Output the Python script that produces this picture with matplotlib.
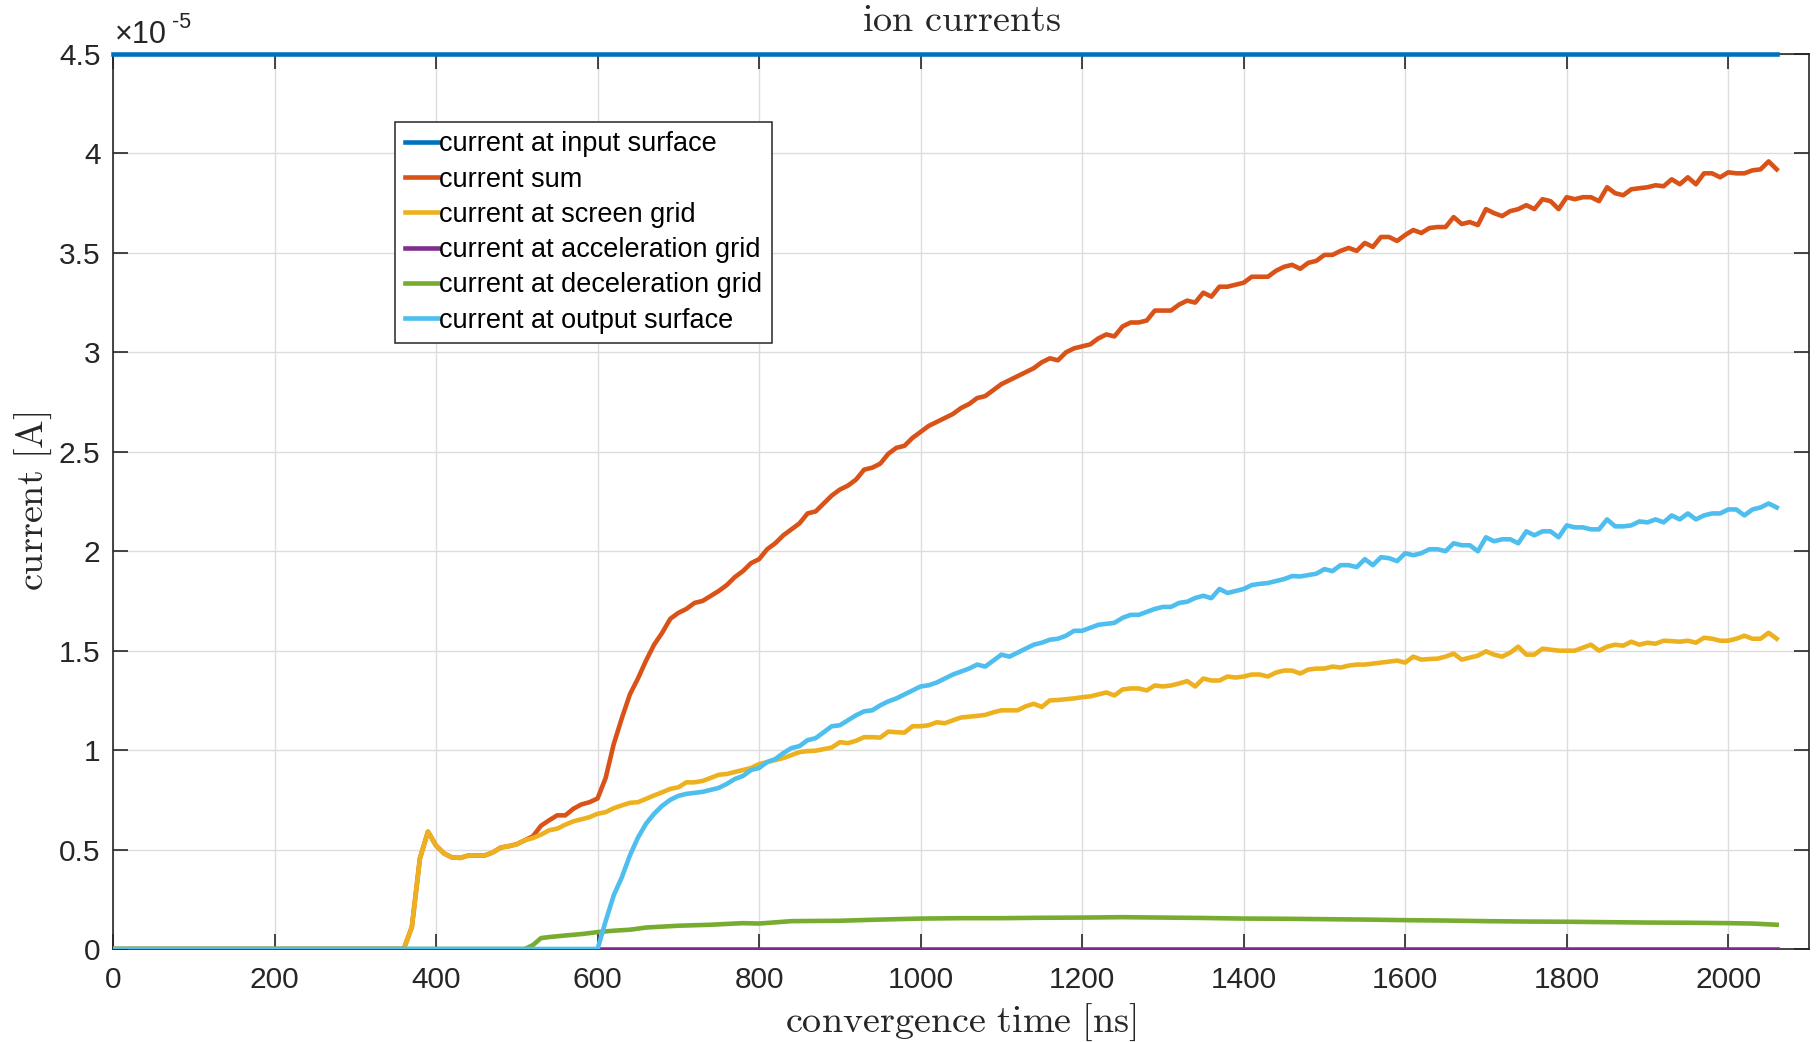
import numpy as np
import matplotlib
matplotlib.use("Agg")
import matplotlib.pyplot as plt

# ---- data (currents in units of 1e-5 A, time in ns) ----
SCALE = 1e-5

t_input = [0, 2060]
i_input = [4.5, 4.5]

t_sum = [0, 360, 370, 380, 390, 400, 410, 420, 430, 440, 450, 460, 470, 480, 490, 500,
         510, 520, 530, 540, 550, 560, 570, 580, 590, 600, 610, 620, 630, 640, 650, 660,
         670, 680, 690, 700, 710, 720, 730, 740, 750, 760, 770, 780, 790, 800, 810, 820,
         830, 840, 850, 860, 870, 880, 890, 900, 910, 920, 930, 940, 950, 960, 970, 980,
         990, 1000, 1010, 1020, 1030, 1040, 1050, 1060, 1070, 1080, 1090, 1100, 1110, 1120,
         1130, 1140, 1150, 1160, 1170, 1180, 1190, 1200, 1210, 1220, 1230, 1240, 1250, 1260,
         1270, 1280, 1290, 1300, 1310, 1320, 1330, 1340, 1350, 1360, 1370, 1380, 1390, 1400,
         1410, 1420, 1430, 1440, 1450, 1460, 1470, 1480, 1490, 1500, 1510, 1520, 1530, 1540,
         1550, 1560, 1570, 1580, 1590, 1600, 1610, 1620, 1630, 1640, 1650, 1660, 1670, 1680,
         1690, 1700, 1710, 1720, 1730, 1740, 1750, 1760, 1770, 1780, 1790, 1800, 1810, 1820,
         1830, 1840, 1850, 1860, 1870, 1880, 1890, 1900, 1910, 1920, 1930, 1940, 1950, 1960,
         1970, 1980, 1990, 2000, 2010, 2020, 2030, 2040, 2050, 2060]
i_sum = [0, 0, 0.11, 0.455, 0.59, 0.52, 0.48, 0.46, 0.458, 0.47, 0.47, 0.47, 0.485, 0.51, 0.517, 0.527,
         0.547, 0.567, 0.62, 0.647, 0.672, 0.672, 0.705, 0.727, 0.738, 0.757, 0.86, 1.03, 1.16, 1.28, 1.36, 1.45,
         1.53, 1.59, 1.66, 1.69, 1.71, 1.74, 1.75, 1.775, 1.80, 1.83, 1.87, 1.90, 1.94, 1.96, 2.01, 2.04,
         2.08, 2.11, 2.14, 2.19, 2.20, 2.24, 2.28, 2.31, 2.33, 2.36, 2.41, 2.42, 2.44, 2.49, 2.52, 2.53,
         2.57, 2.60, 2.63, 2.65, 2.67, 2.69, 2.72, 2.74, 2.77, 2.78, 2.81, 2.84, 2.86, 2.88,
         2.90, 2.92, 2.95, 2.97, 2.96, 3.00, 3.02, 3.03, 3.04, 3.07, 3.09, 3.08, 3.13, 3.15,
         3.15, 3.16, 3.21, 3.21, 3.21, 3.24, 3.26, 3.25, 3.30, 3.28, 3.33, 3.33, 3.34, 3.35,
         3.38, 3.38, 3.38, 3.41, 3.43, 3.44, 3.42, 3.45, 3.46, 3.49, 3.49, 3.51, 3.525, 3.51,
         3.55, 3.53, 3.58, 3.58, 3.56, 3.59, 3.615, 3.60, 3.625, 3.63, 3.63, 3.68, 3.645, 3.655,
         3.64, 3.72, 3.70, 3.685, 3.71, 3.72, 3.74, 3.72, 3.77, 3.76, 3.72, 3.78, 3.77, 3.78,
         3.78, 3.76, 3.83, 3.80, 3.79, 3.82, 3.825, 3.83, 3.84, 3.835, 3.87, 3.845, 3.88, 3.845,
         3.90, 3.90, 3.88, 3.905, 3.90, 3.90, 3.915, 3.92, 3.96, 3.92]

t_screen = [0, 360, 370, 380, 390, 400, 410, 420, 430, 440, 450, 460, 470, 480, 490, 500,
            510, 520, 530, 540, 550, 560, 570, 580, 590, 600, 610, 620, 630, 640, 650, 660,
            670, 680, 690, 700, 710, 720, 730, 740, 750, 760, 770, 780, 790, 800, 810, 820,
            830, 840, 850, 860, 870, 880, 890, 900, 910, 920, 930, 940, 950, 960, 970, 980,
            990, 1000, 1010, 1020, 1030, 1040, 1050, 1060, 1070, 1080, 1090, 1100, 1110, 1120,
            1130, 1140, 1150, 1160, 1170, 1180, 1190, 1200, 1210, 1220, 1230, 1240, 1250, 1260,
            1270, 1280, 1290, 1300, 1310, 1320, 1330, 1340, 1350, 1360, 1370, 1380, 1390, 1400,
            1410, 1420, 1430, 1440, 1450, 1460, 1470, 1480, 1490, 1500, 1510, 1520, 1530, 1540,
            1550, 1560, 1570, 1580, 1590, 1600, 1610, 1620, 1630, 1640, 1650, 1660, 1670, 1680,
            1690, 1700, 1710, 1720, 1730, 1740, 1750, 1760, 1770, 1780, 1790, 1800, 1810, 1820,
            1830, 1840, 1850, 1860, 1870, 1880, 1890, 1900, 1910, 1920, 1930, 1940, 1950, 1960,
            1970, 1980, 1990, 2000, 2010, 2020, 2030, 2040, 2050, 2060]
i_screen = [0, 0, 0.11, 0.455, 0.59, 0.52, 0.48, 0.46, 0.458, 0.47, 0.47, 0.47, 0.485, 0.51, 0.517, 0.527,
            0.547, 0.558, 0.575, 0.597, 0.605, 0.625, 0.642, 0.652, 0.663, 0.68, 0.688, 0.708, 0.722, 0.735, 0.738, 0.755,
            0.772, 0.788, 0.805, 0.813, 0.838, 0.838, 0.845, 0.86, 0.876, 0.88, 0.89, 0.90, 0.91, 0.93, 0.94, 0.95,
            0.96, 0.975, 0.99, 0.995, 0.997, 1.005, 1.013, 1.04, 1.035, 1.047, 1.065, 1.065, 1.063, 1.093, 1.09, 1.088,
            1.12, 1.12, 1.125, 1.14, 1.135, 1.15, 1.164, 1.168, 1.172, 1.177, 1.19, 1.20, 1.20, 1.20,
            1.22, 1.233, 1.217, 1.25, 1.252, 1.256, 1.26, 1.266, 1.27, 1.28, 1.29, 1.275, 1.305, 1.31,
            1.31, 1.30, 1.325, 1.32, 1.325, 1.335, 1.347, 1.32, 1.36, 1.35, 1.35, 1.37, 1.365, 1.37,
            1.38, 1.38, 1.37, 1.39, 1.40, 1.40, 1.385, 1.405, 1.41, 1.41, 1.42, 1.415, 1.425, 1.43,
            1.43, 1.435, 1.44, 1.445, 1.45, 1.44, 1.47, 1.455, 1.458, 1.46, 1.47, 1.485, 1.455, 1.465,
            1.475, 1.497, 1.48, 1.47, 1.49, 1.52, 1.48, 1.48, 1.51, 1.505, 1.50, 1.50, 1.50, 1.515,
            1.53, 1.50, 1.52, 1.53, 1.525, 1.545, 1.53, 1.54, 1.535, 1.55, 1.548, 1.545, 1.55, 1.54,
            1.565, 1.56, 1.55, 1.55, 1.56, 1.575, 1.56, 1.56, 1.59, 1.56]

t_accel = [0, 2060]
i_accel = [0, 0]

t_decel = [0, 510, 520, 530, 540, 560, 580, 600, 620, 640, 660, 700, 740, 780, 800, 840,
           900, 950, 1000, 1050, 1100, 1150, 1200, 1250, 1300, 1350, 1400, 1450, 1500, 1550,
           1600, 1650, 1700, 1750, 1800, 1850, 1900, 1950, 2000, 2030, 2060]
i_decel = [0, 0, 0.02, 0.055, 0.06, 0.068, 0.075, 0.085, 0.092, 0.097, 0.108, 0.117, 0.122, 0.13, 0.128, 0.14,
           0.142, 0.148, 0.153, 0.155, 0.155, 0.157, 0.158, 0.16, 0.158, 0.156, 0.153, 0.152, 0.15, 0.148,
           0.145, 0.143, 0.14, 0.138, 0.137, 0.135, 0.133, 0.132, 0.13, 0.128, 0.122]

t_output = [0, 600, 610, 620, 630, 640, 650, 660, 670, 680, 690, 700, 710, 720, 730, 740,
            750, 760, 770, 780, 790, 800, 810, 820, 830, 840, 850, 860, 870, 880, 890, 900,
            910, 920, 930, 940, 950, 960, 970, 980, 990, 1000, 1010, 1020, 1030, 1040, 1050, 1060,
            1070, 1080, 1090, 1100, 1110, 1120, 1130, 1140, 1150, 1160, 1170, 1180, 1190, 1200,
            1210, 1220, 1230, 1240, 1250, 1260, 1270, 1280, 1290, 1300, 1310, 1320, 1330, 1340,
            1350, 1360, 1370, 1380, 1390, 1400, 1410, 1420, 1430, 1440, 1450, 1460, 1470, 1480,
            1490, 1500, 1510, 1520, 1530, 1540, 1550, 1560, 1570, 1580, 1590, 1600, 1610, 1620,
            1630, 1640, 1650, 1660, 1670, 1680, 1690, 1700, 1710, 1720, 1730, 1740, 1750, 1760,
            1770, 1780, 1790, 1800, 1810, 1820, 1830, 1840, 1850, 1860, 1870, 1880, 1890, 1900,
            1910, 1920, 1930, 1940, 1950, 1960, 1970, 1980, 1990, 2000, 2010, 2020, 2030, 2040,
            2050, 2060]
i_output = [0, 0, 0.14, 0.27, 0.36, 0.47, 0.56, 0.63, 0.68, 0.72, 0.75, 0.77, 0.78, 0.785, 0.79, 0.80,
            0.81, 0.83, 0.855, 0.87, 0.90, 0.91, 0.94, 0.955, 0.985, 1.01, 1.02, 1.05, 1.06, 1.09, 1.12, 1.125,
            1.15, 1.175, 1.195, 1.20, 1.225, 1.245, 1.26, 1.28, 1.30, 1.32, 1.326, 1.34, 1.36, 1.38, 1.395, 1.41,
            1.43, 1.42, 1.45, 1.48, 1.47, 1.49, 1.51, 1.53, 1.54, 1.555, 1.56, 1.575, 1.60, 1.60,
            1.615, 1.63, 1.635, 1.64, 1.665, 1.68, 1.68, 1.695, 1.71, 1.72, 1.72, 1.74, 1.746, 1.765,
            1.776, 1.764, 1.81, 1.79, 1.80, 1.81, 1.83, 1.836, 1.84, 1.85, 1.86, 1.875, 1.873, 1.88,
            1.887, 1.91, 1.90, 1.93, 1.93, 1.92, 1.96, 1.93, 1.97, 1.965, 1.95, 1.99, 1.98, 1.99,
            2.01, 2.01, 2.00, 2.04, 2.03, 2.03, 2.00, 2.07, 2.05, 2.06, 2.06, 2.04, 2.10, 2.08,
            2.10, 2.10, 2.07, 2.13, 2.12, 2.12, 2.11, 2.11, 2.16, 2.125, 2.125, 2.13, 2.15, 2.145,
            2.16, 2.145, 2.18, 2.16, 2.19, 2.16, 2.18, 2.19, 2.19, 2.21, 2.21, 2.18, 2.21, 2.22,
            2.24, 2.22]

labels = ["current at input surface", "current sum", "current at screen grid",
          "current at acceleration grid", "current at deceleration grid",
          "current at output surface"]
colors = ["#0072BD", "#D95319", "#EDB120", "#7E2F8E", "#77AC30", "#4DBEEE"]

x_ticks = list(range(0, 2001, 200))
y_ticks = [0, 0.5, 1, 1.5, 2, 2.5, 3, 3.5, 4, 4.5]
y_tick_labels = ["0", "0.5", "1", "1.5", "2", "2.5", "3", "3.5", "4", "4.5"]

# ---- figure ----
W, H = 1817, 1042
fig = plt.figure(figsize=(W / 100, H / 100), dpi=100)
ax_l, ax_r, ax_t, ax_b = 113, 1809, 54, 949
ax = fig.add_axes([ax_l / W, (H - ax_b) / H, (ax_r - ax_l) / W, (ax_b - ax_t) / H])

tick_font = "Liberation Sans"
series = [(t_input, i_input), (t_sum, i_sum), (t_screen, i_screen),
          (t_accel, i_accel), (t_decel, i_decel), (t_output, i_output)]
for k, ((tt, vv), lab, col) in enumerate(zip(series, labels, colors)):
    ax.plot(tt, np.asarray(vv) * SCALE, color=col, lw=3.3, label=lab,
            clip_on=(k != 0), zorder=3 + k, solid_joinstyle="round")

ax.set_xlim(0, 2100)
ax.set_ylim(0, 4.5 * SCALE)
ax.set_xticks(x_ticks)
ax.set_xticklabels([str(v) for v in x_ticks])
ax.set_yticks([v * SCALE for v in y_ticks])
ax.set_yticklabels(y_tick_labels)

ax.grid(True, color="#dcdcdc", lw=1.0)
ax.set_axisbelow(True)
for sp in ax.spines.values():
    sp.set_color("#262626")
    sp.set_linewidth(1.2)

ax.tick_params(direction="in", length=11, width=1.2, color="#262626",
               top=True, right=True, labelsize=21.5, labelcolor="#262626")
ax.tick_params(axis="x", pad=12)
ax.tick_params(axis="y", pad=9)
for lbl in ax.get_xticklabels() + ax.get_yticklabels():
    lbl.set_fontfamily(tick_font)

# exponent marker above the y axis
ax.text(0.001, 1.004, "\u00d710", transform=ax.transAxes, fontsize=22,
        family=tick_font, color="#262626", ha="left", va="bottom")
ax.text(0.0345, 1.024, "-5", transform=ax.transAxes, fontsize=15.5,
        family=tick_font, color="#262626", ha="left", va="bottom")

# title and axis labels in Computer Modern
ax.text(0.5, 1.0369, r"$\mathrm{ion\ currents}$", transform=ax.transAxes,
        fontsize=27.5, ha="center", va="center", math_fontfamily="cm", color="#262626")
ax.set_xlabel(r"$\mathrm{convergence\ time\ [ns]}$", fontsize=27.5,
              math_fontfamily="cm", va="center", color="#262626")
ax.xaxis.set_label_coords(0.5, -0.0816)
ax.set_ylabel(r"$\mathrm{current\ [A]}$", fontsize=27.5,
              math_fontfamily="cm", va="center", color="#262626")
ax.yaxis.set_label_coords(-0.0470, 0.5)

leg = ax.legend(loc="upper left", bbox_to_anchor=(0.1663, 0.924),
                prop={"family": tick_font, "size": 19.5},
                frameon=True, fancybox=False, shadow=False, framealpha=1,
                edgecolor="#262626", borderpad=0.35, labelspacing=0.34,
                handlelength=1.25, handletextpad=0.02, borderaxespad=0)
leg.get_frame().set_linewidth(1.1)
leg.set_zorder(20)

fig.savefig("out.png", dpi=100)
